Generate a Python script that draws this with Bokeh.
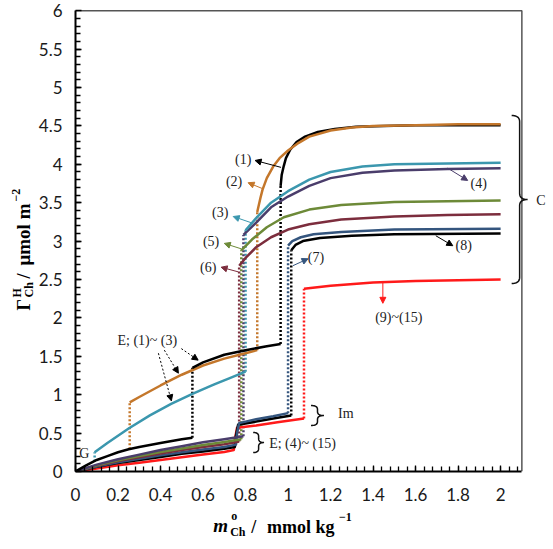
import numpy as np
from bokeh.plotting import figure
from bokeh.layouts import row, column
from bokeh.models import (Range1d, FixedTicker, CustomJSTickFormatter, Label,
                          Arrow, NormalHead)
from bokeh.embed import file_html
from bokeh.resources import INLINE

# ---------------------------------------------------------------------------
# Surface excess of choline (umol m^-2) against bulk molality (mmol kg^-1)
# Branches: E (expanded), Im (intermediate), C (condensed)
# ---------------------------------------------------------------------------

# (1) black
e1_x = [0, 0.05, 0.1, 0.15, 0.2, 0.25, 0.3, 0.4, 0.5, 0.55]
e1_y = [0, 0.08, 0.15, 0.2, 0.25, 0.29, 0.32, 0.37, 0.42, 0.44]
u1_x = [0.55, 0.6, 0.7, 0.8, 0.9, 0.965]
u1_y = [1.35, 1.42, 1.52, 1.58, 1.63, 1.66]
c1_x = [0.965, 0.97, 0.98, 0.99, 1.01, 1.04, 1.08, 1.14, 1.22, 1.32, 1.45, 1.6, 1.8, 2.0]
c1_y = [3.72, 3.86, 3.98, 4.08, 4.19, 4.29, 4.36, 4.42, 4.46, 4.49, 4.5, 4.51, 4.51, 4.51]
j1_x = [0.55, 0.965]
j1_lo = [0.44, 1.66]
j1_hi = [1.35, 3.72]

# (2) orange
e2_x = [0.255, 0.3, 0.4, 0.5, 0.6, 0.7, 0.8, 0.855]
e2_y = [0.9, 0.97, 1.12, 1.26, 1.38, 1.47, 1.54, 1.58]
c2_x = [0.855, 0.87, 0.88, 0.9, 0.93, 0.96, 1.0, 1.05, 1.1, 1.2, 1.3, 1.4, 1.6, 1.8, 2.0]
c2_y = [3.38, 3.56, 3.67, 3.82, 3.97, 4.08, 4.18, 4.28, 4.36, 4.44, 4.48, 4.5, 4.51, 4.52, 4.52]
j2_x = [0.255, 0.855]
j2_lo = [0.29, 1.58]
j2_hi = [0.9, 3.38]

# (3) teal
e3_x = [0.09, 0.15, 0.25, 0.35, 0.45, 0.55, 0.65, 0.72, 0.8]
e3_y = [0.25, 0.37, 0.56, 0.73, 0.88, 1.01, 1.13, 1.21, 1.3]
c3_x = [0.8, 0.85, 0.92, 1.0, 1.1, 1.2, 1.35, 1.5, 1.75, 2.0]
c3_y = [3.14, 3.3, 3.5, 3.65, 3.8, 3.9, 3.97, 4.0, 4.01, 4.02]
j3_x = [0.09, 0.8]
j3_lo = [0.13, 1.3]
j3_hi = [0.25, 3.14]

# (4) purple
e4_x = [0, 0.1, 0.2, 0.3, 0.4, 0.5, 0.6, 0.7, 0.79]
e4_y = [0, 0.09, 0.16, 0.22, 0.28, 0.33, 0.38, 0.42, 0.46]
c4_x = [0.79, 0.85, 0.92, 1.0, 1.1, 1.2, 1.35, 1.5, 1.75, 2.0]
c4_y = [3.08, 3.24, 3.44, 3.58, 3.72, 3.82, 3.89, 3.92, 3.94, 3.95]

# (5) olive
e5_x = [0, 0.1, 0.2, 0.3, 0.4, 0.5, 0.6, 0.7, 0.78]
e5_y = [0, 0.08, 0.145, 0.2, 0.255, 0.3, 0.345, 0.385, 0.42]
c5_x = [0.78, 0.83, 0.9, 0.98, 1.1, 1.25, 1.5, 1.75, 2.0]
c5_y = [2.88, 3.02, 3.18, 3.31, 3.41, 3.47, 3.51, 3.52, 3.53]

# (6) maroon
e6_x = [0, 0.1, 0.2, 0.3, 0.4, 0.5, 0.6, 0.7, 0.77]
e6_y = [0, 0.075, 0.135, 0.185, 0.235, 0.28, 0.32, 0.355, 0.39]
c6_x = [0.77, 0.8, 0.85, 0.92, 1.0, 1.1, 1.25, 1.5, 1.75, 2.0]
c6_y = [2.68, 2.78, 2.92, 3.05, 3.15, 3.22, 3.28, 3.32, 3.34, 3.35]

# (7) navy: E then Im
e7_x = [0, 0.1, 0.2, 0.3, 0.4, 0.5, 0.6, 0.7, 0.755, 0.76, 0.77, 0.85, 0.93, 1.0]
e7_y = [0, 0.065, 0.12, 0.165, 0.21, 0.25, 0.285, 0.32, 0.35, 0.5, 0.63, 0.68, 0.72, 0.76]
c7_x = [1.0, 1.02, 1.06, 1.12, 1.25, 1.5, 2.0]
c7_y = [2.94, 3.0, 3.05, 3.09, 3.12, 3.15, 3.16]

# (8) black: E then Im
e8_x = [0, 0.1, 0.2, 0.3, 0.4, 0.5, 0.6, 0.7, 0.75, 0.755, 0.765, 0.85, 0.93, 1.015]
e8_y = [0, 0.06, 0.11, 0.15, 0.19, 0.23, 0.26, 0.295, 0.32, 0.47, 0.61, 0.65, 0.69, 0.73]
c8_x = [1.015, 1.035, 1.07, 1.15, 1.3, 1.5, 2.0]
c8_y = [2.88, 2.95, 3.0, 3.04, 3.07, 3.09, 3.1]

# (9)~(15) red: E then Im
e9_x = [0, 0.1, 0.2, 0.3, 0.4, 0.5, 0.6, 0.7, 0.745, 0.75, 0.76, 0.85, 0.95, 1.075]
e9_y = [0, 0.04, 0.08, 0.115, 0.15, 0.185, 0.22, 0.255, 0.28, 0.42, 0.57, 0.6, 0.64, 0.69]
c9_x = [1.075, 1.2, 1.4, 1.6, 2.0]
c9_y = [2.38, 2.42, 2.46, 2.48, 2.5]

x_ticks = [0, 0.2, 0.4, 0.6, 0.8, 1.0, 1.2, 1.4, 1.6, 1.8, 2.0]
y_ticks = [0, 0.5, 1, 1.5, 2, 2.5, 3, 3.5, 4, 4.5, 5, 5.5, 6]

BLACK = "#000000"
ORANGE = "#c4772b"
TEAL = "#3b97ae"
PURPLE = "#4a3d6b"
OLIVE = "#6d8a38"
MAROON = "#7c2d3d"
NAVY = "#34557e"
RED = "#ff1a1a"

SOLID_W = 2.5
DOT_W = 2.5
DOT = "2 2"

# page layout (pixels): a strip on the left for the y title, the chart,
# and a strip underneath for the x title
W, H = 553, 549
LEFT_STRIP = 35
BOTTOM_STRIP = 43
FRAME_LEFT = 74          # page x of the y axis
FRAME_BOTTOM = 471       # page y of the x axis
PX_X = 213.0             # pixels per mmol/kg
PX_Y = 76.8              # pixels per umol/m2

# frame runs from the y axis to the right edge of the chart; the visible
# box is closed off at x = 2.1 and y = 6
p = figure(width=W - LEFT_STRIP, height=H - BOTTOM_STRIP,
           output_backend="svg", toolbar_location=None,
           x_range=Range1d(0, (W - FRAME_LEFT) / PX_X),
           y_range=Range1d(0, FRAME_BOTTOM / PX_Y),
           min_border_left=FRAME_LEFT - LEFT_STRIP, min_border_right=0,
           min_border_top=0, min_border_bottom=H - BOTTOM_STRIP - FRAME_BOTTOM)
p.outline_line_color = None
p.xgrid.visible = False
p.ygrid.visible = False
p.background_fill_color = "white"
p.border_fill_color = "white"

fmt = CustomJSTickFormatter(code="return String(Math.round(tick * 100) / 100);")
for ax, ticks, minor, bounds in (
        (p.xaxis[0], x_ticks, [round(0.04 * i, 2) for i in range(1, 53)], (0, 2.1)),
        (p.yaxis[0], y_ticks, [round(0.1 * i, 1) for i in range(1, 60)], (0, 6))):
    ax.ticker = FixedTicker(ticks=ticks, minor_ticks=minor)
    ax.formatter = fmt
    ax.bounds = bounds
    ax.axis_line_color = "black"
    ax.axis_line_width = 2
    ax.major_tick_in = 6
    ax.major_tick_out = 0
    ax.minor_tick_in = 5
    ax.minor_tick_out = 0
    ax.major_tick_line_color = "black"
    ax.minor_tick_line_color = "black"
    ax.major_tick_line_width = 1.3
    ax.minor_tick_line_width = 1.3
    ax.major_label_text_font = "Lato"
    ax.major_label_text_font_size = "17px"
    ax.major_label_text_color = "#1a1a1a"
p.xaxis[0].major_label_standoff = 16
p.yaxis[0].major_label_standoff = 13

# top and right edges of the box
p.line([0, 2.1, 2.1], [6, 6, 0], line_color="#555555", line_width=1.5)

# dotted transitions
def jumps(xs, lo, hi, color):
    p.segment(x0=xs, y0=lo, x1=xs, y1=hi, line_color=color,
              line_width=DOT_W, line_dash=DOT)

jumps(j1_x, j1_lo, j1_hi, BLACK)
jumps(j2_x, j2_lo, j2_hi, ORANGE)
jumps(j3_x, j3_lo, j3_hi, TEAL)
jumps([c4_x[0]], [e4_y[-1]], [c4_y[0]], PURPLE)
jumps([c5_x[0]], [e5_y[-1]], [c5_y[0]], OLIVE)
jumps([c6_x[0]], [e6_y[-1]], [c6_y[0]], MAROON)
jumps([c7_x[0]], [e7_y[-1]], [c7_y[0]], NAVY)
jumps([c8_x[0]], [e8_y[-1]], [c8_y[0]], BLACK)
jumps([c9_x[0]], [e9_y[-1]], [c9_y[0]], RED)

# solid branches
for xs, ys, col in (
        (e9_x, e9_y, RED), (e8_x, e8_y, BLACK), (e7_x, e7_y, NAVY),
        (e6_x, e6_y, MAROON), (e5_x, e5_y, OLIVE), (e4_x, e4_y, PURPLE),
        (e1_x, e1_y, BLACK), (e3_x, e3_y, TEAL), (e2_x, e2_y, ORANGE),
        (u1_x, u1_y, BLACK),
        (c9_x, c9_y, RED), (c8_x, c8_y, BLACK), (c7_x, c7_y, NAVY),
        (c6_x, c6_y, MAROON), (c5_x, c5_y, OLIVE), (c4_x, c4_y, PURPLE),
        (c3_x, c3_y, TEAL), (c1_x, c1_y, BLACK), (c2_x, c2_y, ORANGE)):
    p.line(xs, ys, line_color=col, line_width=SOLID_W, line_join="round")


# curly braces grouping the branches
def brace(x0, tip, ytop, ybot, r, n=12):
    xm = (x0 + tip) / 2
    ym = (ytop + ybot) / 2
    t = np.linspace(0, 1, n)

    def quad(a, c, b):
        return ((1 - t) ** 2 * a[0] + 2 * (1 - t) * t * c[0] + t ** 2 * b[0],
                (1 - t) ** 2 * a[1] + 2 * (1 - t) * t * c[1] + t ** 2 * b[1])
    parts = [quad((x0, ytop), (xm, ytop), (xm, ytop - r)),
             quad((xm, ym + r), (xm, ym), (tip, ym)),
             quad((tip, ym), (xm, ym), (xm, ym - r)),
             quad((xm, ybot + r), (xm, ybot), (x0, ybot))]
    xs = np.concatenate([q[0] for q in parts])
    ys = np.concatenate([q[1] for q in parts])
    p.line(xs, ys, line_color="#111111", line_width=1.5)

brace(2.052, 2.127, 4.635, 2.448, 0.08)
brace(1.108, 1.169, 0.859, 0.599, 0.05)
brace(0.836, 0.887, 0.508, 0.247, 0.05)

SERIF = "Liberation Serif"
TXT = "#222222"


def note(x, y, text, align="center", size="14px"):
    p.add_layout(Label(x=x, y=y, text=text, text_font=SERIF, text_font_size=size,
                       text_color=TXT, text_align=align, text_baseline="middle"))


def pointer(x0, y0, x1, y1, color, dash="solid"):
    p.add_layout(Arrow(end=NormalHead(size=6, fill_color=color, line_color=color),
                       x_start=x0, y_start=y0, x_end=x1, y_end=y1,
                       line_color=color, line_width=1, line_dash=dash))

note(0.789, 4.06, "(1)")
note(0.746, 3.78, "(2)")
note(0.681, 3.37, "(3)")
note(0.638, 2.99, "(5)")
note(0.624, 2.66, "(6)")
note(1.131, 2.79, "(7)")
note(1.897, 3.75, "(4)")
note(1.826, 2.94, "(8)")
note(1.521, 2.00, "(9)~(15)")
note(0.338, 1.71, "E; (1)~ (3)")
note(0.042, 0.23, "G")
note(1.235, 0.755, "Im", align="left")
note(0.911, 0.365, "E; (4)~ (15)", align="left")
note(2.19, 3.53, "C")

pointer(0.967, 3.96, 0.845, 4.05, BLACK)
pointer(0.883, 3.68, 0.812, 3.76, ORANGE)
pointer(0.826, 3.24, 0.742, 3.32, TEAL)
pointer(0.779, 2.90, 0.700, 2.97, OLIVE)
pointer(0.765, 2.60, 0.685, 2.66, MAROON)
pointer(1.023, 2.68, 1.094, 2.77, NAVY)
pointer(1.751, 3.95, 1.845, 3.79, PURPLE)
pointer(1.695, 3.07, 1.775, 2.94, BLACK)
pointer(1.446, 2.47, 1.446, 2.19, RED)
pointer(0.498, 1.60, 0.577, 1.45, BLACK, DOT)
pointer(0.418, 1.58, 0.484, 1.28, BLACK, DOT)
pointer(0.390, 1.54, 0.451, 0.92, BLACK, DOT)


# ---- axis titles: small strips whose ranges are page pixels -------------
def strip(width, height, x0, x1, y0, y1):
    f = figure(width=width, height=height, output_backend="svg",
               toolbar_location=None, x_axis_location=None,
               y_axis_location=None, x_range=Range1d(x0, x1),
               y_range=Range1d(y0, y1), min_border=0)
    f.outline_line_color = None
    f.xgrid.visible = False
    f.ygrid.visible = False
    f.background_fill_color = "white"
    f.border_fill_color = "white"
    return f

left = strip(LEFT_STRIP, H, 0, LEFT_STRIP, H, 0)
# the strip under the chart shares the chart's frame columns
bottom = strip(W - LEFT_STRIP, BOTTOM_STRIP, FRAME_LEFT, W, H, H - BOTTOM_STRIP)


def piece(fig, x, y, text, size, style="bold", angle=0.0):
    fig.add_layout(Label(x=x, y=y, text=text, text_font=SERIF,
                         text_font_size=size, text_font_style=style,
                         text_color="black", angle=angle,
                         text_align="left", text_baseline="alphabetic"))

R = np.pi / 2
piece(left, 23, 310, "Γ", "18px", angle=R)
piece(left, 16, 297, "H", "12px", angle=R)
piece(left, 28, 297, "Ch", "12px", angle=R)
piece(left, 23, 278, "/", "18px", angle=R)
piece(left, 23, 265, "μmol m", "19px", angle=R)
piece(left, 15, 201, "−2", "12px", angle=R)

piece(bottom, 212, 525, "m", "19px", style="bold italic")
piece(bottom, 230, 515, "o", "12px")
piece(bottom, 229, 531, "Ch", "12px")
piece(bottom, 250, 526, "/", "18px")
piece(bottom, 266, 526, "mmol kg", "18px")
piece(bottom, 338, 516, "−1", "12px")

page = row(left, column(p, bottom, spacing=0), spacing=0)
open("out.html", "w").write(file_html(page, INLINE))
